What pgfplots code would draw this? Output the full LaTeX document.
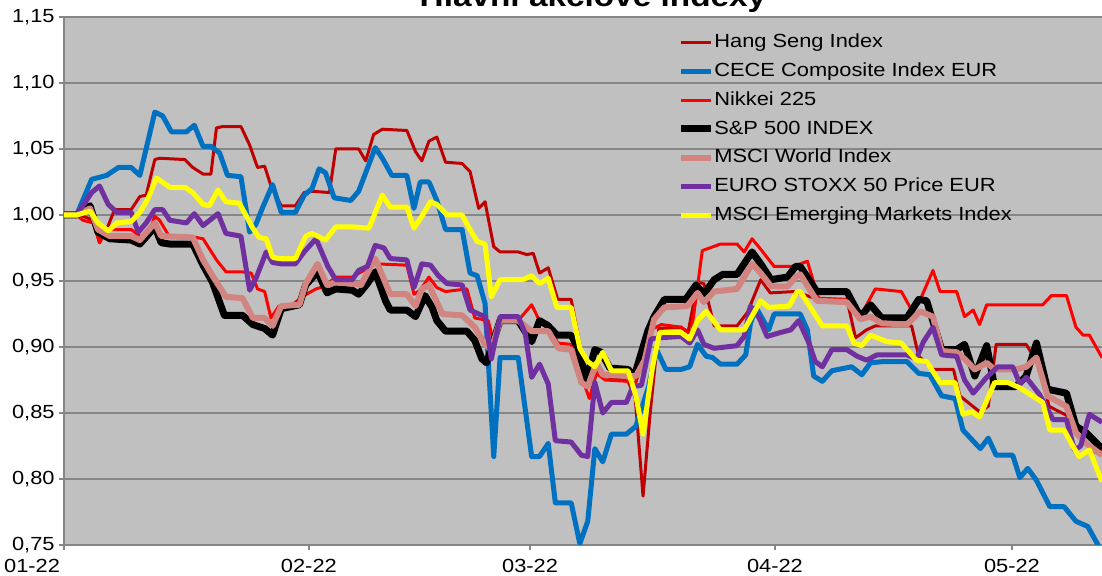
\documentclass[border=0pt]{standalone}
\usepackage{pgfplots}
\pgfplotsset{compat=1.18}
\usepackage{fontspec}
\setmainfont{Liberation Sans}[FakeStretch=1.15]
\definecolor{hs}{RGB}{192,0,0}
\definecolor{cece}{RGB}{0,112,192}
\definecolor{nik}{RGB}{255,0,0}
\definecolor{msciw}{RGB}{209,132,128}
\definecolor{stoxx}{RGB}{112,48,160}
\definecolor{em}{RGB}{255,255,0}
\definecolor{bg}{RGB}{192,192,192}
\definecolor{gridc}{RGB}{134,134,134}
\begin{document}
\begin{tikzpicture}
\begin{axis}[name=ax, at={(0,0)}, anchor=south west,
  scale only axis, width=519pt, height=264pt,
  xmin=0, xmax=131.4, ymin=0.75, ymax=1.15,
  axis x line*=bottom, axis y line*=left,
  axis line style={draw=gridc, line width=0.75pt},
  axis background/.style={fill=bg},
  xtick={0,31,59,90,120},
  xticklabels={{\makebox[0pt][r]{01-22\hspace{2pt}}},02-22,03-22,04-22,05-22},
  ytick={0.75,0.8,0.85,0.9,0.95,1.0,1.05,1.1,1.15},
  yticklabels={{0,75},{0,80},{0,85},{0,90},{0,95},{1,00},{1,05},{1,10},{1,15}},
  tick align=outside, major tick length=2.5pt,
  tick style={draw=gridc, line width=0.75pt},
  tick label style={font=\fontsize{9.5}{11}\selectfont},
  yticklabel style={inner sep=0pt, xshift=-2pt},
  xticklabel style={inner sep=0pt, yshift=-4.5pt},
  ymajorgrids, grid style={draw=gridc, line width=0.75pt},
  legend image code/.code={\draw[#1] (0pt,0pt) -- (15pt,0pt);},
  legend cell align=left,
  legend style={at={(0.5905,0.9699)}, anchor=north west, draw=none, fill=none,
    inner sep=0pt, row sep=5.1pt, column sep=0pt,
    font=\fontsize{9.5}{11}\selectfont,
    nodes={inner sep=0pt, text height=7.2pt, text depth=2.1pt}},
  every axis plot/.append style={line join=round},
]
\addplot[hs, line width=1.5pt] coordinates {
(0,1.000)(1.6,1.001)(3.7,0.996)(4.5,0.979)(5.4,0.989)(6.4,1.004)(8.5,1.004)(9.6,1.014)(10.4,1.015)(11.5,1.042)(12.1,1.043)(15.3,1.042)(16.3,1.036)(17.6,1.031)(18.6,1.031)(19.3,1.066)(20.1,1.067)(22.4,1.067)(23.5,1.053)(24.5,1.036)(25.4,1.037)(26.2,1.022)(27.5,1.007)(29.3,1.007)(30.4,1.017)(31.4,1.018)(33.6,1.017)(34.4,1.050)(37.3,1.050)(38.2,1.041)(39.2,1.061)(40.3,1.065)(43.4,1.064)(44.5,1.048)(45.3,1.041)(46.2,1.056)(47.2,1.059)(48.3,1.040)(50.4,1.039)(51.4,1.033)(52.5,1.005)(53.3,1.010)(54.4,0.976)(55.2,0.972)(57.5,0.972)(58.6,0.970)(59.4,0.971)(60.2,0.956)(61.3,0.960)(62.5,0.936)(64.2,0.936)(65.4,0.899)(66.3,0.888)(67.2,0.885)(68.2,0.878)(71.4,0.874)(72.3,0.862)(73.3,0.787)(74.2,0.850)(75.3,0.914)(78.1,0.915)(79.0,0.911)(80.2,0.949)(81.0,0.948)(82.3,0.916)(85.2,0.916)(86.5,0.926)(88.2,0.951)(89.4,0.941)(92.5,0.942)(95.5,0.936)(99.1,0.936)(100.2,0.907)(101.6,0.913)(102.7,0.916)(107.3,0.916)(108.2,0.893)(110.0,0.883)(112.6,0.883)(113.4,0.863)(115.9,0.851)(117.0,0.855)(118.0,0.902)(121.8,0.902)(123.5,0.885)(124.7,0.855)(127.3,0.847)(128.5,0.832)(130.6,0.820)(131.4,0.822)};
\addlegendentry{Hang Seng Index}
\addplot[cece, line width=2.5pt] coordinates {
(0,1.000)(1.6,1.000)(3.5,1.027)(5.4,1.030)(6.9,1.036)(8.5,1.036)(9.6,1.030)(11.5,1.078)(12.5,1.075)(13.6,1.063)(15.5,1.063)(16.5,1.068)(17.6,1.052)(18.6,1.052)(19.7,1.047)(20.7,1.030)(22.4,1.029)(23.5,0.987)(24.3,0.993)(25.1,1.005)(26.4,1.023)(27.5,1.002)(29.3,1.002)(30.4,1.015)(31.4,1.020)(32.3,1.035)(33.1,1.032)(34.2,1.013)(36.3,1.011)(37.3,1.018)(39.4,1.051)(40.3,1.043)(41.5,1.030)(43.4,1.030)(44.3,1.005)(45.1,1.025)(46.2,1.025)(47.2,1.011)(48.3,0.989)(50.4,0.989)(51.4,0.956)(52.3,0.954)(53.3,0.933)(54.4,0.817)(55.2,0.892)(57.5,0.892)(59.2,0.817)(60.2,0.817)(61.3,0.827)(62.2,0.782)(64.2,0.782)(65.3,0.751)(66.3,0.768)(67.2,0.823)(68.2,0.813)(69.3,0.834)(71.2,0.834)(72.4,0.840)(74.0,0.870)(75.0,0.898)(76.2,0.883)(78.1,0.883)(79.2,0.885)(80.2,0.902)(81.3,0.893)(82.1,0.892)(83.1,0.887)(85.2,0.887)(86.3,0.894)(86.9,0.918)(87.6,0.930)(89.2,0.913)(89.9,0.925)(93.2,0.925)(94.1,0.913)(94.9,0.878)(96.0,0.874)(97.2,0.882)(99.7,0.885)(101.0,0.879)(102.1,0.888)(103.7,0.889)(106.7,0.889)(108.2,0.880)(109.6,0.879)(111.1,0.863)(112.8,0.861)(113.8,0.837)(116.0,0.823)(117.0,0.831)(118.0,0.818)(120.1,0.818)(121.0,0.801)(122.0,0.808)(123.1,0.799)(124.8,0.779)(126.6,0.779)(128.1,0.768)(129.6,0.764)(130.9,0.750)(131.4,0.745)};
\addlegendentry{CECE Composite Index EUR}
\addplot[nik, line width=1.5pt] coordinates {
(0,1.000)(1.6,1.000)(2.4,0.996)(3.7,0.994)(4.5,0.979)(5.4,0.989)(8.5,0.989)(9.6,0.984)(10.4,0.981)(11.5,0.999)(12.1,0.996)(13.4,0.983)(16.7,0.983)(17.6,0.982)(19.3,0.966)(20.5,0.957)(22.4,0.957)(23.7,0.956)(24.5,0.944)(25.4,0.942)(26.2,0.922)(27.2,0.931)(28.9,0.932)(30.4,0.939)(31.9,0.944)(33.0,0.946)(34.4,0.953)(36.5,0.953)(39.4,0.963)(43.4,0.962)(44.3,0.940)(45.1,0.943)(46.2,0.953)(47.2,0.945)(48.3,0.942)(51.0,0.944)(52.0,0.922)(53.7,0.920)(54.3,0.906)(55.2,0.920)(57.5,0.920)(59.2,0.932)(60.1,0.921)(61.3,0.918)(62.5,0.903)(64.2,0.902)(65.5,0.878)(66.5,0.861)(67.4,0.880)(68.5,0.875)(71.4,0.874)(72.4,0.873)(74.3,0.913)(75.6,0.917)(78.1,0.915)(79.4,0.910)(80.8,0.973)(83.1,0.978)(85.2,0.978)(86.1,0.972)(87.1,0.982)(88.2,0.974)(89.9,0.961)(92.4,0.961)(94.1,0.965)(95.5,0.937)(99.1,0.936)(100.6,0.921)(102.7,0.944)(106.0,0.942)(107.3,0.928)(108.4,0.936)(110.0,0.958)(110.9,0.942)(113.0,0.942)(114.0,0.923)(115.1,0.928)(115.9,0.917)(116.8,0.932)(123.9,0.932)(125.0,0.939)(126.9,0.939)(128.1,0.915)(129.0,0.909)(129.8,0.909)(131.4,0.892)};
\addlegendentry{Nikkei 225}
\addplot[black, line width=3.5pt] coordinates {
(0,1.000)(1.6,1.000)(3.3,1.007)(4.3,0.987)(5.8,0.982)(8.5,0.981)(9.6,0.978)(11.5,0.991)(12.3,0.979)(13.4,0.978)(16.3,0.978)(17.6,0.962)(18.8,0.949)(20.3,0.924)(22.6,0.924)(23.9,0.917)(25.4,0.914)(26.4,0.909)(27.5,0.929)(29.8,0.932)(30.6,0.947)(32.1,0.957)(33.3,0.941)(34.4,0.944)(36.5,0.943)(37.3,0.940)(38.4,0.948)(39.4,0.957)(40.7,0.935)(41.3,0.928)(43.4,0.928)(44.5,0.923)(45.7,0.939)(46.6,0.930)(47.2,0.920)(48.3,0.912)(51.0,0.912)(52.0,0.905)(52.9,0.891)(53.5,0.888)(55.2,0.920)(57.5,0.920)(59.2,0.904)(60.2,0.920)(61.3,0.916)(62.4,0.909)(64.2,0.909)(65.1,0.899)(66.1,0.875)(67.2,0.898)(68.0,0.896)(69.1,0.884)(71.4,0.883)(72.2,0.878)(73.9,0.912)(74.7,0.923)(76.0,0.936)(78.7,0.936)(80.0,0.947)(81.0,0.940)(82.3,0.951)(83.4,0.955)(85.2,0.955)(87.1,0.972)(88.2,0.963)(89.5,0.951)(91.6,0.953)(92.6,0.961)(93.2,0.961)(95.3,0.942)(99.1,0.942)(100.8,0.923)(102.1,0.932)(103.5,0.922)(106.7,0.922)(108.2,0.936)(109.2,0.935)(111.1,0.898)(113.0,0.898)(114.0,0.902)(115.3,0.878)(116.8,0.901)(117.8,0.870)(120.5,0.870)(121.8,0.878)(123.1,0.903)(124.5,0.868)(126.9,0.865)(128.1,0.840)(129.4,0.835)(131.4,0.823)};
\addlegendentry{S\&P 500 INDEX}
\addplot[msciw, line width=3pt] coordinates {
(0,1.000)(1.6,1.000)(3.3,1.005)(4.3,0.989)(5.8,0.984)(8.5,0.984)(9.6,0.981)(11.5,0.994)(12.3,0.984)(16.3,0.983)(17.6,0.966)(18.8,0.954)(20.5,0.938)(22.6,0.937)(23.9,0.922)(25.4,0.922)(26.4,0.916)(27.5,0.931)(29.8,0.932)(30.6,0.948)(32.1,0.963)(33.3,0.947)(34.4,0.949)(36.5,0.948)(37.6,0.947)(39.4,0.967)(41.3,0.940)(43.4,0.940)(44.5,0.931)(45.3,0.944)(46.2,0.947)(47.9,0.925)(50.4,0.924)(52.0,0.915)(53.3,0.902)(54.1,0.898)(55.2,0.920)(57.5,0.920)(59.2,0.912)(61.3,0.912)(62.6,0.899)(64.2,0.898)(65.5,0.873)(66.3,0.870)(67.4,0.888)(68.2,0.879)(71.4,0.878)(72.4,0.878)(73.5,0.890)(74.7,0.921)(76.0,0.930)(78.9,0.931)(80.2,0.941)(81.0,0.934)(82.3,0.942)(85.2,0.944)(87.1,0.963)(88.2,0.956)(89.5,0.946)(91.6,0.946)(92.6,0.953)(93.2,0.955)(95.3,0.935)(99.1,0.934)(100.8,0.921)(102.1,0.923)(103.5,0.918)(106.7,0.917)(108.4,0.927)(110.0,0.923)(111.1,0.897)(113.0,0.896)(114.0,0.891)(115.3,0.883)(116.8,0.888)(117.8,0.883)(120.5,0.883)(121.8,0.885)(123.1,0.892)(124.5,0.863)(126.9,0.855)(128.1,0.835)(129.4,0.827)(131.4,0.818)};
\addlegendentry{MSCI World Index}
\addplot[stoxx, line width=2.5pt] coordinates {
(0,1.000)(1.6,1.000)(3.5,1.017)(4.5,1.022)(5.6,1.008)(6.7,1.002)(8.5,1.002)(9.4,0.987)(10.4,0.994)(11.5,1.004)(12.5,1.004)(13.4,0.996)(15.5,0.994)(16.5,1.001)(17.6,0.992)(19.5,1.001)(20.5,0.986)(22.4,0.984)(23.5,0.943)(24.3,0.952)(25.6,0.972)(26.4,0.964)(27.5,0.963)(29.3,0.963)(30.4,0.972)(31.9,0.982)(33.4,0.961)(34.4,0.951)(36.5,0.951)(37.3,0.958)(38.4,0.961)(39.4,0.977)(40.5,0.975)(41.3,0.967)(43.4,0.966)(44.3,0.945)(45.3,0.963)(46.4,0.962)(47.4,0.954)(48.5,0.948)(50.4,0.947)(51.4,0.928)(52.5,0.925)(53.3,0.923)(54.1,0.891)(55.2,0.923)(57.5,0.923)(58.4,0.910)(59.2,0.877)(60.2,0.887)(61.3,0.872)(62.2,0.829)(64.2,0.828)(65.5,0.818)(66.3,0.817)(67.2,0.873)(68.2,0.850)(69.3,0.858)(71.2,0.858)(72.0,0.870)(73.1,0.871)(74.3,0.906)(75.4,0.907)(78.1,0.908)(79.2,0.903)(80.2,0.913)(81.0,0.902)(82.3,0.899)(85.2,0.901)(86.1,0.908)(86.9,0.931)(88.0,0.922)(89.0,0.908)(90.7,0.911)(92.0,0.913)(93.0,0.920)(94.3,0.903)(95.1,0.889)(96.0,0.885)(97.2,0.898)(99.1,0.898)(100.4,0.893)(101.6,0.890)(102.9,0.894)(106.7,0.894)(107.9,0.891)(108.8,0.904)(110.0,0.915)(111.1,0.894)(113.0,0.893)(114.0,0.875)(115.1,0.865)(116.8,0.877)(118.2,0.885)(120.1,0.885)(121.0,0.872)(121.8,0.877)(123.5,0.864)(125.2,0.845)(126.9,0.845)(127.9,0.822)(128.7,0.825)(129.8,0.849)(131.4,0.843)};
\addlegendentry{EURO STOXX 50 Price EUR}
\addplot[em, line width=2.5pt] coordinates {
(0,1.000)(1.6,1.000)(3.3,1.003)(4.3,0.994)(5.6,0.988)(6.7,0.994)(8.5,0.995)(9.6,1.002)(10.6,1.012)(11.7,1.028)(13.4,1.021)(15.3,1.021)(16.3,1.017)(17.6,1.008)(18.4,1.007)(19.5,1.019)(20.5,1.010)(22.2,1.009)(23.9,0.990)(24.7,0.983)(25.6,0.982)(26.4,0.968)(27.2,0.967)(29.3,0.967)(30.6,0.984)(31.4,0.986)(33.1,0.981)(34.4,0.991)(36.5,0.991)(38.6,0.990)(40.3,1.015)(41.3,1.006)(43.4,1.006)(44.3,0.990)(45.3,0.999)(46.4,1.010)(47.2,1.008)(48.5,1.000)(50.4,1.000)(51.2,0.991)(52.3,0.980)(53.3,0.978)(54.1,0.938)(55.2,0.951)(58.1,0.951)(59.2,0.954)(60.2,0.948)(61.3,0.952)(62.4,0.930)(64.2,0.930)(65.3,0.899)(66.3,0.889)(67.2,0.885)(68.2,0.896)(69.3,0.882)(71.4,0.882)(72.4,0.863)(73.3,0.834)(74.5,0.885)(75.4,0.911)(78.1,0.911)(79.2,0.906)(80.2,0.920)(81.3,0.927)(83.1,0.913)(86.1,0.913)(88.2,0.935)(89.2,0.930)(91.8,0.931)(92.8,0.942)(93.2,0.942)(94.7,0.928)(96.0,0.916)(99.1,0.916)(100.0,0.903)(101.0,0.901)(102.1,0.909)(104.2,0.904)(106.0,0.903)(107.9,0.890)(109.2,0.889)(110.9,0.873)(112.8,0.873)(113.8,0.849)(114.9,0.851)(115.9,0.847)(117.8,0.873)(119.5,0.873)(121.0,0.869)(123.9,0.858)(124.8,0.837)(126.6,0.837)(127.7,0.825)(128.5,0.817)(129.8,0.822)(131.4,0.798)};
\addlegendentry{MSCI Emerging Markets Index}
\end{axis}
\node[anchor=base, font=\bfseries\fontsize{14.5}{16}\selectfont] at ([shift={(264.5pt,5pt)}]ax.north west) {Hlavní akciové indexy};
\pgfresetboundingbox
\path[use as bounding box] ([shift={(-32pt,-15.5pt)}]ax.south west) rectangle ([shift={(0pt,8.5pt)}]ax.north east);
\end{tikzpicture}
\end{document}
